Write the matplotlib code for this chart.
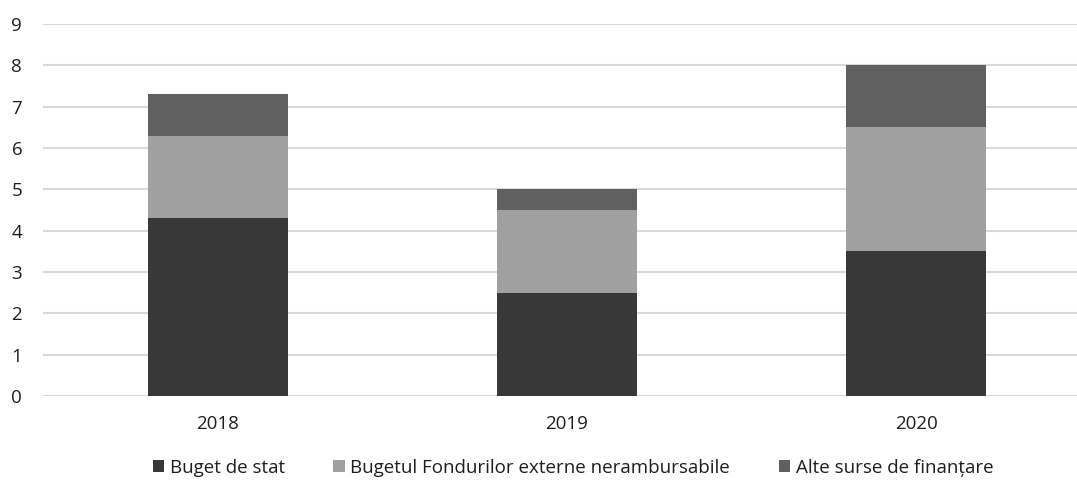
import matplotlib
matplotlib.use("Agg")
import matplotlib.pyplot as plt
import numpy as np

plt.rcParams['font.family'] = ['Open Sans', 'DejaVu Sans']

years = ["2018", "2019", "2020"]
buget_stat = [4.3, 2.5, 3.5]
fonduri_externe = [2.0, 2.0, 3.0]
alte_surse = [1.0, 0.5, 1.5]
series_names = ["Buget de stat", "Bugetul Fondurilor externe nerambursabile", "Alte surse de finanțare"]
colors = ["#383838", "#a0a0a0", "#606060"]

fig = plt.figure(figsize=(10.77, 4.9), dpi=100)
ax = fig.add_axes([0.04, 0.192, 0.96, 0.759])
x = np.arange(len(years))
w = 0.4
b1 = ax.bar(x, buget_stat, w, color=colors[0], label=series_names[0], zorder=3)
b2 = ax.bar(x, fonduri_externe, w, bottom=buget_stat, color=colors[1], label=series_names[1], zorder=3)
bottom3 = np.array(buget_stat) + np.array(fonduri_externe)
b3 = ax.bar(x, alte_surse, w, bottom=bottom3, color=colors[2], label=series_names[2], zorder=3)

ax.set_ylim(0, 9)
ax.set_xlim(-0.5, 2.46)
ax.set_yticks(range(0, 10))
ax.set_xticks(x)
ax.set_xticklabels(years)
ax.yaxis.grid(True, color="#d9d9d9", linewidth=1.5, zorder=0)
for s in ax.spines.values():
    s.set_visible(False)
ax.tick_params(axis='both', length=0, labelsize=13.5, colors="#1e1e1e")
ax.tick_params(axis='y', pad=15)
ax.tick_params(axis='x', pad=14)

leg = fig.legend(handles=[b1, b2, b3], labels=series_names, loc='center', bbox_to_anchor=(0.532, 0.045),
                 ncol=3, frameon=False, fontsize=13.5, handlelength=0.6, handleheight=0.6,
                 handletextpad=0.3, columnspacing=2.6)
for t in leg.get_texts():
    t.set_color("#1e1e1e")

fig.savefig("out.png", dpi=100)
